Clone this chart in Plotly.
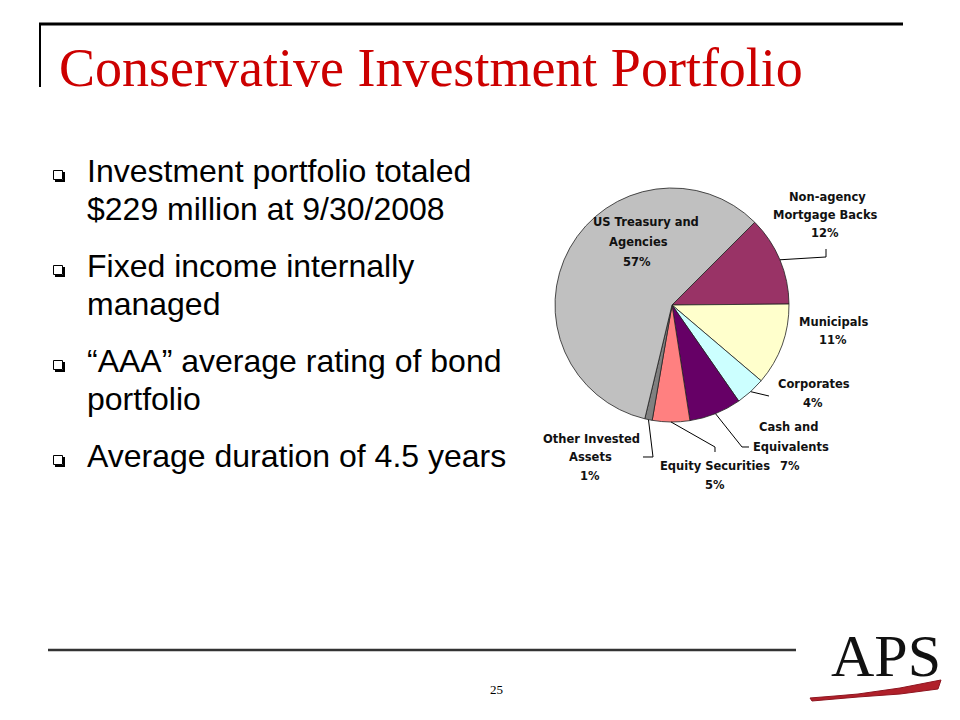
import math
import plotly.graph_objects as go

# ---------------- data ----------------
categories = ["Non-agency Mortgage Backs", "Municipals", "Corporates",
              "Cash and Equivalents", "Equity Securities",
              "Other Invested Assets", "US Treasury and Agencies"]
shares = [12, 11, 4, 7, 5, 1, 57]
slice_colors = ["#993366", "#FFFFCC", "#CCFFFF", "#660066", "#FF8080",
                "#808080", "#C0C0C0"]
label_lines = [["Non-agency", "Mortgage Backs"], ["Municipals"], ["Corporates"],
               ["Cash and", "Equivalents"], ["Equity Securities"],
               ["Other Invested", "Assets"], ["US Treasury and", "Agencies"]]

title_text = "Conservative Investment Portfolio"
bullets = [["Investment portfolio totaled", "$229 million at 9/30/2008"],
           ["Fixed income internally", "managed"],
           ["\u201cAAA\u201d average rating of bond", "portfolio"],
           ["Average duration of 4.5 years"]]
page_number = "25"
logo_text = "APS"

# ---------------- layout helpers (pixel -> paper) ----------------
W, H = 960, 720
def PX(x): return x / W
def PY(y): return 1 - y / H

# pie geometry in pixels
cx, cy, r = 672, 305, 117
rotation = 45

fig = go.Figure()
fig.add_trace(go.Pie(
    labels=categories, values=shares, sort=False, direction="clockwise",
    rotation=rotation, textinfo="none", hoverinfo="label+value",
    marker=dict(colors=slice_colors, line=dict(color="#222222", width=0.8)),
    domain=dict(x=[PX(cx - r), PX(cx + r)], y=[PY(cy + r), PY(cy - r)]),
    showlegend=False,
))

annotations = []
shapes = []

# pie labels: (line centres) per category; percent line appended from data
label_pos = {
    0: dict(xs=[827, 825, 825], ys=[197, 215, 233]),
    1: dict(xs=[833, 833], ys=[322, 340]),
    2: dict(xs=[814, 813], ys=[384, 403]),
    3: dict(xs=[788, 791, 790], ys=[427, 447, 466]),
    4: dict(xs=[715, 715], ys=[466, 485]),
    5: dict(xs=[591, 590, 590], ys=[439, 457, 476]),
    6: dict(xs=[646, 638, 637], ys=[222, 242, 262]),
}
for i, lines in enumerate(label_lines):
    txt = lines + [f"{shares[i]}%"]
    pos = label_pos[i]
    for t, x, y in zip(txt, pos["xs"], pos["ys"]):
        annotations.append(dict(
            x=PX(x), y=PY(y), xref="paper", yref="paper", text=f"<b>{t}</b>",
            showarrow=False, xanchor="center", yanchor="middle",
            font=dict(family="DejaVu Sans", size=11.5, color="#111111")))

# leader lines: start at slice mid-angle on the rim (computed from data)
total = sum(shares)
cum = 0
mid_angles = []
for v in shares:
    a0 = rotation + cum / total * 360
    cum += v
    a1 = rotation + cum / total * 360
    mid_angles.append((a0 + a1) / 2)

leader_routes = {
    0: [(826, 257), (826, 249)],
    2: [(769, 396)],
    3: [(742, 447), (749, 447)],
    4: [(715, 447), (715, 452)],
    5: [(653, 457), (643, 457)],
}
for i, route in leader_routes.items():
    a = math.radians(mid_angles[i])
    sx, sy = cx + r * math.sin(a), cy - r * math.cos(a)
    pts = [(sx, sy)] + route
    path = "M " + " L ".join(f"{PX(x):.5f},{PY(y):.5f}" for x, y in pts)
    shapes.append(dict(type="path", path=path, xref="paper", yref="paper",
                       line=dict(color="#000000", width=1)))

# title
annotations.append(dict(x=PX(57), y=PY(68), xref="paper", yref="paper",
                        text=title_text, showarrow=False, xanchor="left",
                        yanchor="middle",
                        font=dict(family="Liberation Serif", size=54,
                                  color="#CC0000")))

# frame lines
shapes.append(dict(type="line", xref="paper", yref="paper",
                   x0=PX(39), x1=PX(903), y0=PY(24), y1=PY(24),
                   line=dict(color="#000000", width=3)))
shapes.append(dict(type="line", xref="paper", yref="paper",
                   x0=PX(40), x1=PX(40), y0=PY(24), y1=PY(87),
                   line=dict(color="#000000", width=2)))
shapes.append(dict(type="line", xref="paper", yref="paper",
                   x0=PX(48), x1=PX(796), y0=PY(650), y1=PY(650),
                   line=dict(color="#333333", width=2.5)))

# bullets
base = 181.7
for b in bullets:
    # square bullet
    shapes.append(dict(type="rect", xref="paper", yref="paper",
                       x0=PX(53.5), x1=PX(62.5), y0=PY(179.5 + base - 181.7),
                       y1=PY(170.5 + base - 181.7),
                       line=dict(color="#000000", width=1), fillcolor="white"))
    shapes.append(dict(type="path", xref="paper", yref="paper",
                       path=(f"M {PX(64):.5f},{PY(172 + base - 181.7):.5f} "
                             f"L {PX(64):.5f},{PY(181 + base - 181.7):.5f} "
                             f"L {PX(55):.5f},{PY(181 + base - 181.7):.5f}"),
                       line=dict(color="#000000", width=2)))
    for j, line in enumerate(b):
        bl = base + j * 38.3
        annotations.append(dict(x=PX(85), y=PY(bl - 11), xref="paper",
                                yref="paper", text=line, showarrow=False,
                                xanchor="left", yanchor="middle",
                                font=dict(family="Liberation Sans", size=32,
                                          color="#000000")))
    base += 95

# page number
annotations.append(dict(x=PX(496), y=PY(689), xref="paper", yref="paper",
                        text=page_number, showarrow=False, xanchor="center",
                        yanchor="middle",
                        font=dict(family="Liberation Serif", size=13,
                                  color="#000000")))

# logo
annotations.append(dict(x=PX(886), y=PY(656), xref="paper", yref="paper",
                        text=logo_text, showarrow=False, xanchor="center",
                        yanchor="middle",
                        font=dict(family="Liberation Serif", size=60,
                                  color="#111111")))
sw = [(810, 698), (835, 696), (858, 694), (900, 688), (941, 680),
      (938, 689), (900, 694), (858, 697), (835, 699), (812, 701)]
shapes.append(dict(type="path", xref="paper", yref="paper",
                   path="M " + " L ".join(f"{PX(x):.5f},{PY(y):.5f}" for x, y in sw) + " Z",
                   fillcolor="#B0202A", line=dict(color="#8E1520", width=1)))

fig.update_layout(width=W, height=H, margin=dict(l=0, r=0, t=0, b=0),
                  paper_bgcolor="white", plot_bgcolor="white",
                  annotations=annotations, shapes=shapes, showlegend=False)

fig.write_html("out.html")
